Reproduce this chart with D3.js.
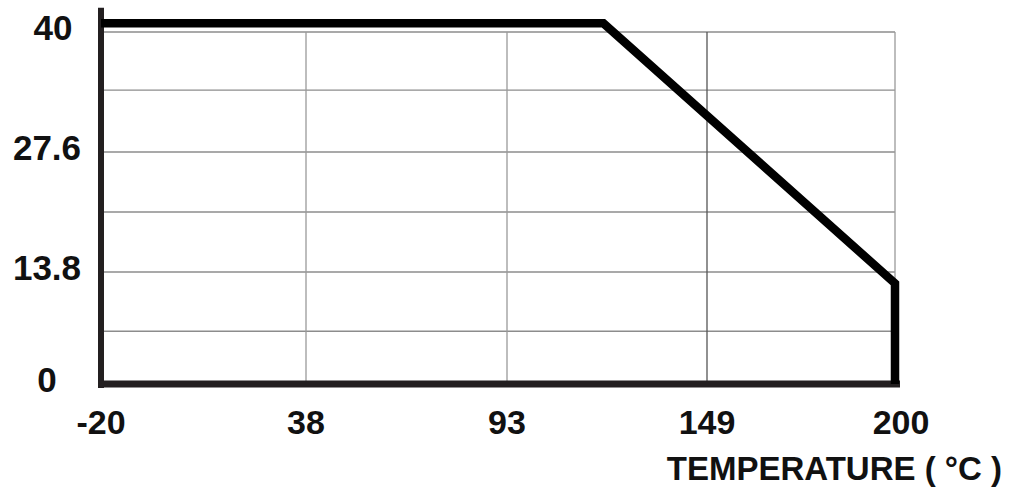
<!DOCTYPE html>
<html>
<head>
<meta charset="utf-8">
<script src="https://cdn.jsdelivr.net/npm/d3@7"></script>
<style>
  body { margin: 0; background: #fff; }
  text { font-family: "Liberation Sans", Arial, sans-serif; font-weight: bold; fill: #111; }
</style>
</head>
<body>
<svg id="chart" width="1010" height="490"></svg>
<script>
// tick values
var tempTicks = [-20, 38, 93, 149, 200];
var loadTicks = [0, 13.8, 27.6, 40];
var loadMinor = [6.5, 20.7, 34];

// derating curve
var curveTemp = [-20, 120, 200, 200];
var curveLoad = [40.9, 40.9, 12.4, 0];

var svg = d3.select('#chart');

// the scale in the drawing is not linear, so map each labelled tick
var x = d3.scaleLinear()
    .domain(tempTicks)
    .range([101, 306, 507, 707, 895]);

var y = d3.scaleLinear()
    .domain(loadTicks)
    .range([384, 272, 152, 32]);

var grid = svg.append('g').attr('class', 'grid');

// horizontal grid
grid.selectAll('line.h')
    .data(loadTicks.slice(1).concat(loadMinor))
    .enter()
    .append('line')
    .attr('x1', x(-20))
    .attr('x2', x(200))
    .attr('y1', function (d) { return y(d); })
    .attr('y2', function (d) { return y(d); })
    .style('stroke', '#8c8c8c')
    .style('stroke-width', 1.3);

// vertical grid (incl. right border)
grid.selectAll('line.v')
    .data(tempTicks.slice(1))
    .enter()
    .append('line')
    .attr('x1', function (d) { return x(d); })
    .attr('x2', function (d) { return x(d); })
    .attr('y1', y(40))
    .attr('y2', y(0))
    .style('stroke', function (d) { return d == 149 ? '#555' : '#9a9a9a'; })
    .style('stroke-width', 1.3);

// axes lines
svg.append('line')
    .attr('x1', x(-20)).attr('x2', x(-20))
    .attr('y1', y(42.5)).attr('y2', y(0) + 4)
    .style('stroke', '#231f20')
    .style('stroke-width', 6);

svg.append('line')
    .attr('x1', x(-20) - 3).attr('x2', x(200) + 5)
    .attr('y1', y(0)).attr('y2', y(0))
    .style('stroke', '#231f20')
    .style('stroke-width', 7);

// curve
var line = d3.line()
    .x(function (d) { return x(d[0]); })
    .y(function (d) { return y(d[1]); });

svg.append('path')
    .datum(d3.zip(curveTemp, curveLoad))
    .attr('d', line)
    .style('fill', 'none')
    .style('stroke', '#000')
    .style('stroke-width', 8.5)
    .style('stroke-linejoin', 'miter');

// y labels
svg.selectAll('text.ylab')
    .data(loadTicks)
    .enter()
    .append('text')
    .attr('class', 'ylab')
    .attr('x', function (d) { return d == 40 ? 53 : 47; })
    .attr('y', function (d) { return y(d) + 8; })
    .attr('text-anchor', 'middle')
    .style('font-size', '35px')
    .text(function (d) { return d; });

// x labels
svg.selectAll('text.xlab')
    .data(tempTicks)
    .enter()
    .append('text')
    .attr('class', 'xlab')
    .attr('x', function (d) { return x(d) + (d == 200 ? 6 : 0); })
    .attr('y', 434)
    .attr('text-anchor', 'middle')
    .style('font-size', '34px')
    .text(function (d) { return d; });

svg.append('text')
    .attr('x', 1002)
    .attr('y', 480)
    .attr('text-anchor', 'end')
    .style('font-size', '33px')
    .text('TEMPERATURE ( °C )');
</script>
</body>
</html>
